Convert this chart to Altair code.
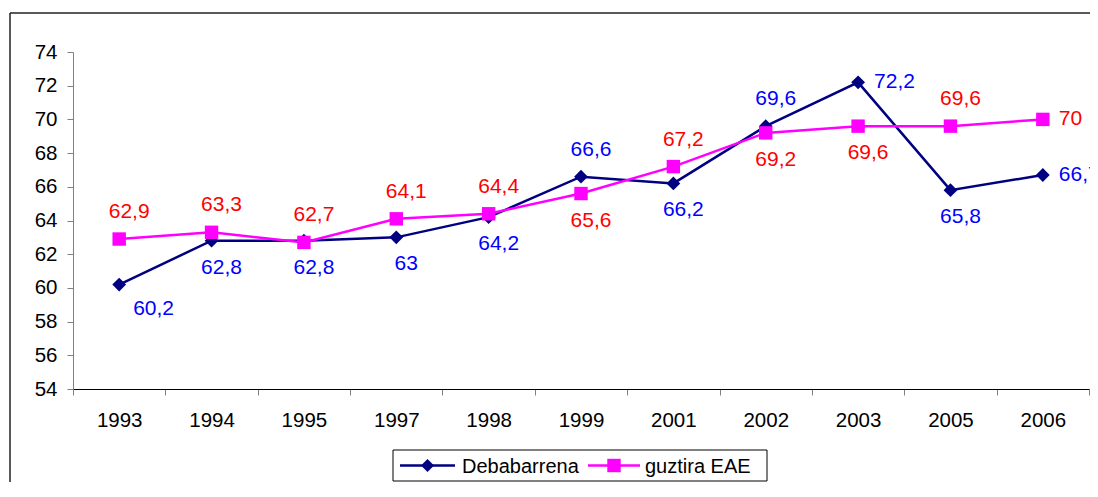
import altair as alt
import pandas as pd

years = ["1993", "1994", "1995", "1997", "1998", "1999", "2001", "2002", "2003", "2005", "2006"]
deba = [60.2, 62.8, 62.8, 63, 64.2, 66.6, 66.2, 69.6, 72.2, 65.8, 66.7]
eae = [62.9, 63.3, 62.7, 64.1, 64.4, 65.6, 67.2, 69.2, 69.6, 69.6, 70]
deba_pos = ["belowright", "below", "below", "below", "below", "above", "below", "above", "right", "below", "right"]
eae_pos = ["above", "above", "above", "above", "above", "below", "above", "below", "below", "above", "right"]
series = ["Debabarrena", "guztira EAE"]
y_ticks = [54, 56, 58, 60, 62, 64, 66, 68, 70, 72, 74]


def fmt(v):
    s = ("%g" % v)
    return s.replace(".", ",")


rows = []
for yr, v, p in zip(years, deba, deba_pos):
    rows.append({"year": yr, "value": v, "series": series[0], "pos": p, "label": fmt(v)})
for yr, v, p in zip(years, eae, eae_pos):
    rows.append({"year": yr, "value": v, "series": series[1], "pos": p, "label": fmt(v)})
df = pd.DataFrame(rows)

FONT = "Liberation Sans"
LINE_COLORS = ["#000080", "#FF00FF"]

x_enc = alt.X(
    "year:N",
    sort=years,
    scale=alt.Scale(type="band", paddingInner=0, paddingOuter=0),
    axis=alt.Axis(
        title=None, labelAngle=0, tickBand="extent", grid=False,
        domainColor="#000000", domainWidth=1.2, tickColor="#808080", tickSize=6,
        labelFontSize=20.5, labelFont=FONT, labelColor="#000000", labelPadding=15,
    ),
)
y_enc = alt.Y(
    "value:Q",
    scale=alt.Scale(domain=[54, 74], nice=False, zero=False),
    axis=alt.Axis(
        title=None, values=y_ticks, grid=False,
        domainColor="#808080", tickColor="#808080", tickSize=6,
        labelFontSize=20.5, labelFont=FONT, labelColor="#000000", labelPadding=10,
    ),
)
color_enc = alt.Color("series:N", scale=alt.Scale(domain=series, range=LINE_COLORS), legend=None)

base = alt.Chart(df)
one = alt.Chart(pd.DataFrame({"a": [0]}))

# outer chart frame (decoration)
frame_top = one.mark_rule(stroke="#222222", strokeWidth=1.5).encode(
    x=alt.value(-63), x2=alt.value(1017), y=alt.value(-39)
)
frame_left = one.mark_rule(stroke="#222222", strokeWidth=1.5).encode(
    x=alt.value(-63), y=alt.value(-39), y2=alt.value(430)
)

lines_deba = base.transform_filter(alt.datum.series == series[0]).mark_line(strokeWidth=2.5).encode(
    x=x_enc, y=y_enc, color=color_enc
)
lines_eae = base.transform_filter(alt.datum.series == series[1]).mark_line(strokeWidth=2.5).encode(
    x=x_enc, y=y_enc, color=color_enc
)
pts_deba = base.transform_filter(alt.datum.series == series[0]).mark_point(
    filled=True, shape="diamond", size=190, opacity=1
).encode(x=x_enc, y=y_enc, color=color_enc)
pts_eae = base.transform_filter(alt.datum.series == series[1]).mark_point(
    filled=True, shape="square", size=180, opacity=1
).encode(x=x_enc, y=y_enc, color=color_enc)

label_color = alt.condition(alt.datum.series == series[0], alt.value("#0000FF"), alt.value("#FF0000"))

placements = {
    "above": dict(align="center", dx=10, dy=-27),
    "below": dict(align="center", dx=10, dy=27),
    "right": dict(align="left", dx=16, dy=0),
    "belowright": dict(align="left", dx=14, dy=24),
}
text_layers = []
for name, opts in placements.items():
    text_layers.append(
        base.transform_filter(alt.datum.pos == name).mark_text(
            baseline="middle", fontSize=21, font=FONT, **opts
        ).encode(x=x_enc, y=y_enc, text="label:N", color=label_color)
    )

# legend box (bottom centre)
LY = 413.5
leg_box = one.mark_rect(fill="#FFFFFF", stroke="#000000", strokeWidth=1).encode(
    x=alt.value(320), x2=alt.value(694), y=alt.value(398), y2=alt.value(429)
)
leg_line1 = one.mark_rule(stroke=LINE_COLORS[0], strokeWidth=2.5).encode(
    x=alt.value(327), x2=alt.value(382), y=alt.value(LY)
)
leg_pt1 = one.mark_point(filled=True, shape="diamond", size=170, opacity=1, color=LINE_COLORS[0]).encode(
    x=alt.value(354.5), y=alt.value(LY)
)
leg_txt1 = one.mark_text(align="left", baseline="middle", fontSize=20, font=FONT, color="#000000").encode(
    x=alt.value(389), y=alt.value(LY + 1), text=alt.value(series[0])
)
leg_line2 = one.mark_rule(stroke=LINE_COLORS[1], strokeWidth=2.5).encode(
    x=alt.value(515), x2=alt.value(567), y=alt.value(LY)
)
leg_pt2 = one.mark_point(filled=True, shape="square", size=180, opacity=1, color=LINE_COLORS[1]).encode(
    x=alt.value(541), y=alt.value(LY)
)
leg_txt2 = one.mark_text(align="left", baseline="middle", fontSize=20, font=FONT, color="#000000").encode(
    x=alt.value(572), y=alt.value(LY + 1), text=alt.value(series[1])
)

chart = alt.layer(
    frame_top, frame_left, lines_deba, pts_deba, lines_eae, pts_eae, *text_layers,
    leg_box, leg_line1, leg_pt1, leg_txt1, leg_line2, leg_pt2, leg_txt2
).properties(
    width=1016, height=337,
    autosize=alt.AutoSizeParams(type="none"),
    padding={"left": 65, "top": 44, "right": 1, "bottom": 93},
).configure_view(
    stroke=None
)

chart.save("out.html", embed_options={"renderer": "svg", "actions": False})
